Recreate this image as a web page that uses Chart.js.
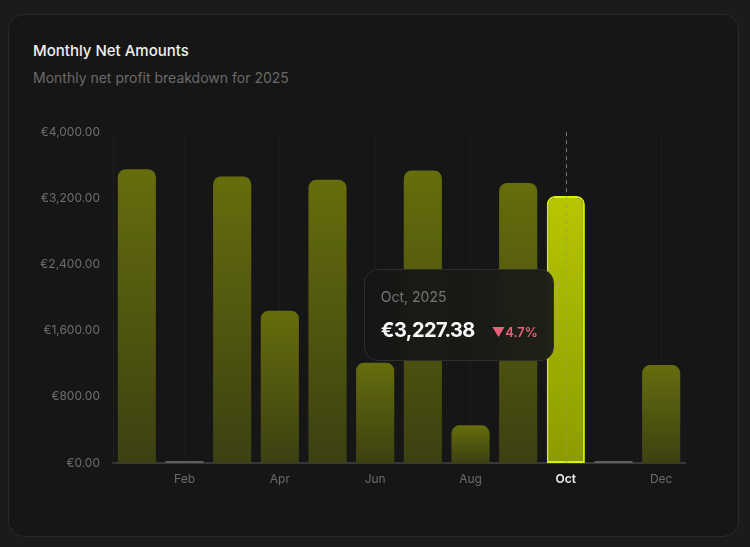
<!DOCTYPE html>
<html>
<head>
<meta charset="utf-8">
<script src="https://cdn.jsdelivr.net/npm/chart.js@4.4.1/dist/chart.umd.min.js"></script>
<style>
  body { margin: 0; background: #1b1b1b; font-family: Inter, "Noto Sans", sans-serif; width: 750px; height: 547px; overflow: hidden; }
  .card { position: absolute; left: 8px; top: 14px; width: 729px; height: 521px; background: #161616; border: 1px solid #2a2a2a; border-radius: 16px; }
  .title { position: absolute; left: 33px; top: 41px; font-size: 15px; font-weight: 500; color: #f0f0f0; }
  .sub { position: absolute; left: 33px; top: 69px; font-size: 14px; color: #6a6a6a; }
  .wrap { position: absolute; left: 33px; top: 112px; width: 667px; height: 383px; }
  #tip { position: absolute; width: 190px; height: 92px; box-sizing: border-box; border: 1px solid #2e2e2e; border-radius: 14px;
         background: linear-gradient(90deg, rgba(22,22,21,0.97), rgba(29,30,24,0.96)); backdrop-filter: blur(4px); display: none; }
  #tip .t { position: absolute; left: 16px; top: 18px; font-size: 14px; color: #777; }
  #tip .v { position: absolute; left: 16px; top: 48px; font-size: 20px; font-weight: 700; color: #fafafa; letter-spacing: -0.6px; }
  #tip .p { position: absolute; left: 127px; top: 54px; font-size: 13px; font-weight: 600; color: #e8627c; }
</style>
</head>
<body>
<div class="card"></div>
<div class="title">Monthly Net Amounts</div>
<div class="sub">Monthly net profit breakdown for 2025</div>
<div class="wrap"><canvas id="myChart"></canvas></div>
<div id="tip"><div class="t"></div><div class="v"></div><div class="p"></div></div>
<script>
'use strict'
let months = ['Jan','Feb','Mar','Apr','May','Jun','Jul','Aug','Sep','Oct','Nov','Dec']
let netAmounts = [3553, 0, 3465, 1841, 3424, 1212, 3537, 455, 3386.5, 3227.38, 0, 1184]
let yTicks = [0, 800, 1600, 2400, 3200, 4000]
let year = 2025
let activeIndex = 9

function euro(v) {
    return '€' + v.toLocaleString('en-US', {minimumFractionDigits: 2, maximumFractionDigits: 2})
}

function barColor(ctx) {
    let v = ctx.raw
    if (v === 0) return '#5e5e5e'
    let chart = ctx.chart
    if (!chart.chartArea) return '#5a610f'
    let y = chart.scales.y
    let g = chart.ctx.createLinearGradient(0, y.getPixelForValue(v), 0, y.getPixelForValue(0))
    if (ctx.dataIndex === activeIndex) {
        g.addColorStop(0, '#b6c600')
        g.addColorStop(1, '#8e9b00')
    } else {
        g.addColorStop(0, '#656d0c')
        g.addColorStop(1, '#3d4012')
    }
    return g
}

// dashed line through the active bar
let dashPlugin = {
    id: 'dash',
    afterDatasetsDraw(chart) {
        let bar = chart.getDatasetMeta(0).data[activeIndex]
        let c = chart.ctx
        c.save()
        c.strokeStyle = 'rgba(150,150,150,0.75)'
        c.lineWidth = 1
        c.setLineDash([4, 4])
        c.beginPath()
        c.moveTo(Math.round(bar.x) + 0.5, chart.chartArea.top)
        c.lineTo(Math.round(bar.x) + 0.5, chart.chartArea.bottom)
        c.stroke()
        c.restore()
    }
}

function externalTip(context) {
    let tip = document.getElementById('tip')
    let model = context.tooltip
    if (model.opacity === 0) { tip.style.display = 'none'; return }
    let i = model.dataPoints[0].dataIndex
    let prev = netAmounts[i - 1]
    let change = (netAmounts[i] - prev) / prev * 100
    tip.querySelector('.t').textContent = months[i] + ', ' + year
    tip.querySelector('.v').textContent = euro(netAmounts[i])
    tip.querySelector('.p').textContent = (change < 0 ? '▼' : '▲') + Math.abs(change).toFixed(1) + '%'
    tip.querySelector('.p').style.color = change < 0 ? '#e8627c' : '#7ccf6a'
    let wrap = context.chart.canvas.parentNode
    tip.style.display = 'block'
    tip.style.left = (wrap.offsetLeft + model.caretX - 12 - 190) + 'px'
    tip.style.top = (wrap.offsetTop + model.caretY + 73) + 'px'
}

let ctx = document.getElementById('myChart').getContext('2d')
let myChart = new Chart(ctx, {
    type: 'bar',
    data: {
        labels: months,
        datasets: [{
            data: netAmounts,
            backgroundColor: barColor,
            borderColor: (c) => c.dataIndex === activeIndex ? '#d6f200' : 'transparent',
            borderWidth: (c) => c.dataIndex === activeIndex ? 2 : 0,
            borderRadius: (c) => c.raw === 0 ? 0 : { topLeft: 8, topRight: 8, bottomLeft: 0, bottomRight: 0 },
            borderSkipped: false,
            minBarLength: 2,
            categoryPercentage: 0.8,
            barPercentage: 1
        }]
    },
    plugins: [dashPlugin],
    options: {
        responsive: true,
        maintainAspectRatio: false,
        animation: false,
        events: [],
        layout: { padding: { top: 4, right: 15, left: 0, bottom: 0 } },
        plugins: {
            legend: { display: false },
            tooltip: { enabled: false, external: externalTip }
        },
        scales: {
            x: {
                afterFit: (s) => { s.height = 32 },
                grid: {
                    offset: false,
                    drawTicks: false,
                    color: (c) => c.index % 2 === 1 ? '#1c1c1c' : 'transparent'
                },
                border: { color: '#383838', width: 2 },
                ticks: {
                    padding: 9,
                    autoSkip: false,
                    maxRotation: 0,
                    callback: (v, i) => i % 2 === 1 ? months[i] : '',
                    color: (c) => c.index === activeIndex ? '#f2f2f2' : '#6b6b6b',
                    font: (c) => ({ family: 'Inter', size: 12, weight: c.index === activeIndex ? '600' : '400' })
                }
            },
            y: {
                min: yTicks[0],
                max: yTicks[yTicks.length - 1],
                afterFit: (s) => { s.width = 80 },
                afterBuildTicks: (s) => { s.ticks = yTicks.map(v => ({ value: v })) },
                grid: { display: false, drawTicks: false },
                border: { color: '#1f1f1f', width: 1 },
                ticks: {
                    padding: 13,
                    color: '#6e6e6e',
                    font: { family: 'Inter', size: 12 },
                    callback: (v) => euro(v)
                }
            }
        }
    }
})

myChart.tooltip.setActiveElements([{ datasetIndex: 0, index: activeIndex }], { x: 0, y: 0 })
myChart.update()
</script>
</body>
</html>
